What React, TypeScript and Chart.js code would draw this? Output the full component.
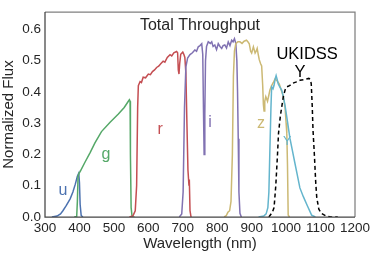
import React, { useEffect, useRef } from 'react';
import { Chart, registerables } from 'chart.js';

Chart.register(...registerables);

// [wavelength nm, normalized flux]
const uBand = [[320,0],[335,0.003],[345,0.01],[352,0.02],[362,0.037],[373,0.058],[381,0.08],[388,0.105],[394,0.13],[398,0.14],[400,0.11],[402,0.04],[405,0.005],[410,0]];
const gBand = [[385,0],[392,0.002],[394,0.05],[396,0.13],[399,0.14],[402,0.145],[416,0.175],[431,0.206],[445,0.237],[464,0.273],[489,0.303],[513,0.329],[530,0.35],[542,0.37],[545,0.375],[547,0.37],[548,0.2],[550,0.03],[553,0],[560,0]];
const rBand = [[545,0],[555,0.003],[562,0.02],[566,0.1],[569,0.35],[571,0.42],[576,0.433],[580,0.43],[585,0.447],[592,0.445],[600,0.457],[606,0.455],[612,0.465],[618,0.47],[624,0.478],[630,0.482],[636,0.49],[643,0.498],[648,0.495],[655,0.51],[663,0.519],[668,0.515],[674,0.525],[682,0.529],[685,0.525],[687,0.47],[689,0.457],[691,0.49],[694,0.52],[700,0.527],[703,0.52],[706,0.51],[709,0.46],[712,0.3],[715,0.15],[718,0.1],[719,0.12],[721,0.02],[724,0]];
const iBand = [[690,0],[697,0.01],[701,0.08],[705,0.35],[709,0.48],[714,0.508],[721,0.519],[728,0.525],[735,0.534],[740,0.53],[745,0.544],[750,0.548],[755,0.554],[758,0.52],[760,0.35],[762,0.2],[764,0.33],[766,0.5],[769,0.545],[774,0.56],[780,0.555],[784,0.56],[788,0.545],[793,0.55],[798,0.535],[803,0.554],[808,0.545],[813,0.539],[817,0.548],[822,0.55],[827,0.54],[832,0.56],[837,0.548],[842,0.565],[846,0.56],[850,0.57],[854,0.555],[857,0.5],[859,0.4],[861,0.25],[863,0.08],[866,0.012],[870,0]];
const zBand = [[820,0],[826,0.004],[831,0.015],[836,0.02],[840,0.05],[844,0.2],[847,0.45],[850,0.53],[854,0.554],[860,0.56],[866,0.56],[872,0.555],[878,0.562],[885,0.565],[889,0.56],[893,0.554],[897,0.53],[900,0.524],[905,0.544],[910,0.524],[913,0.53],[916,0.539],[919,0.52],[922,0.503],[926,0.49],[929,0.483],[932,0.421],[934,0.36],[936,0.339],[938,0.37],[941,0.385],[946,0.37],[950,0.39],[953,0.406],[958,0.42],[963,0.43],[968,0.442],[974,0.435],[980,0.426],[986,0.405],[992,0.385],[997,0.35],[1000,0.3],[1002,0.268],[1004,0.166],[1006,0.006],[1010,0]];
const yBand = [[920,0],[935,0.003],[942,0.01],[947,0.03],[950,0.08],[953,0.22],[956,0.35],[958,0.416],[962,0.41],[965,0.421],[968,0.44],[971,0.452],[974,0.44],[977,0.426],[982,0.415],[987,0.406],[992,0.385],[997,0.355],[1004,0.305],[1011,0.252],[1018,0.214],[1025,0.175],[1032,0.137],[1040,0.093],[1050,0.065],[1062,0.035],[1074,0.006],[1085,0]];
const ukidssY = [[950,0],[960,0.015],[965,0.03],[970,0.1],[975,0.2],[978,0.268],[983,0.32],[987,0.35],[992,0.385],[997,0.406],[1002,0.416],[1010,0.42],[1020,0.428],[1030,0.432],[1040,0.437],[1055,0.44],[1066,0.443],[1070,0.44],[1073,0.426],[1076,0.35],[1078,0.28],[1082,0.2],[1086,0.11],[1089,0.062],[1095,0.025],[1103,0.011],[1115,0.004],[1130,0],[1150,0]];

const yTicks = [0, 0.1, 0.2, 0.3, 0.4, 0.5, 0.6];

// annotation texts: [text, wavelength, flux (baseline), colour, font size]
const annotations: [string, number, number, string, number][] = [
  ['u', 352, 0.071, '#4C72B0', 16],
  ['g', 477, 0.185, '#55A868', 16],
  ['r', 634, 0.264, '#C44E52', 16],
  ['i', 779, 0.289, '#8172B2', 16],
  ['z', 927, 0.283, '#CCB974', 16],
  ['Y', 1003, 0.231, '#64B5CD', 12.5],
  ['UKIDSS', 1061, 0.504, '#000000', 16.5],
  ['Y', 1040, 0.449, '#000000', 16.5],
  ['Total Throughput', 750, 0.597, '#262626', 16],
];

const FONT = '"Liberation Sans", Arial, Helvetica, sans-serif';

const toXY = (arr: number[][]) => arr.map(([x, y]) => ({ x, y }));

const overlayPlugin = {
  id: 'overlay',
  afterDatasetsDraw(chart: any) {
    const { ctx, chartArea, scales } = chart;
    const xs = scales.x;
    const ys = scales.y;
    ctx.save();
    ctx.textAlign = 'center';
    ctx.textBaseline = 'alphabetic';
    for (const [t, wx, fy, col, size] of annotations) {
      ctx.font = `${size}px ${FONT}`;
      ctx.fillStyle = col;
      ctx.fillText(t, xs.getPixelForValue(wx), ys.getPixelForValue(fy));
    }
    const { left, right, top, bottom } = chartArea;
    ctx.lineWidth = 1.25;
    ctx.strokeStyle = '#808080';
    ctx.beginPath();
    ctx.moveTo(left, top);
    ctx.lineTo(right, top);
    ctx.lineTo(right, bottom);
    ctx.stroke();
    ctx.strokeStyle = '#444444';
    ctx.beginPath();
    ctx.moveTo(left, top);
    ctx.lineTo(left, bottom);
    ctx.lineTo(right, bottom);
    ctx.stroke();
    ctx.restore();
  },
};

export default function App() {
  const ref = useRef<HTMLCanvasElement>(null);
  useEffect(() => {
    document.body.style.margin = '0';
    const line = (data: number[][], color: string, extra: any = {}) => ({
      data: toXY(data),
      borderColor: color,
      backgroundColor: color,
      borderWidth: 1.5,
      pointRadius: 0,
      tension: 0,
      fill: false,
      ...extra,
    });
    const chart = new Chart(ref.current!, {
      type: 'line',
      data: {
        datasets: [
          line(ukidssY, '#000000', { borderDash: [4, 3] }),
          line(yBand, '#64B5CD'),
          line(zBand, '#CCB974'),
          line(iBand, '#8172B2'),
          line(rBand, '#C44E52'),
          line(gBand, '#55A868'),
          line(uBand, '#4C72B0'),
        ],
      },
      options: {
        animation: false,
        responsive: true,
        maintainAspectRatio: false,
        layout: { padding: { left: 0, right: 19, top: 4, bottom: 0 } },
        plugins: { legend: { display: false }, tooltip: { enabled: false } },
        scales: {
          x: {
            type: 'linear',
            min: 300,
            max: 1200,
            grid: { display: false, drawTicks: false },
            border: { display: false },
            ticks: { stepSize: 100, padding: 3, color: '#262626', font: { family: FONT, size: 13.5 }, maxRotation: 0, autoSkip: false, callback: (v: any) => String(Math.round(Number(v))) },
            title: { display: true, text: 'Wavelength (nm)', color: '#262626', font: { family: FONT, size: 15 }, padding: { top: 0, bottom: 6 } },
            afterFit: (s: any) => { s.height = 42; },
          },
          y: {
            type: 'linear',
            min: 0,
            max: 0.655,
            grid: { display: false, drawTicks: false },
            border: { display: false },
            afterBuildTicks: (s: any) => { s.ticks = yTicks.map((v) => ({ value: v })); },
            ticks: { padding: 4, color: '#262626', font: { family: FONT, size: 13.5 }, callback: (v: any) => Number(v).toFixed(1) },
            title: { display: true, text: 'Normalized Flux', color: '#262626', font: { family: FONT, size: 15 }, padding: { top: 0, bottom: 0 } },
            afterFit: (s: any) => { s.width = 45; },
          },
        },
      },
      plugins: [overlayPlugin],
    });
    return () => chart.destroy();
  }, []);
  return (
    <div style={{ position: 'fixed', left: 0, top: 0, width: 374, height: 259, background: '#fff' }}>
      <canvas ref={ref} />
    </div>
  );
}
